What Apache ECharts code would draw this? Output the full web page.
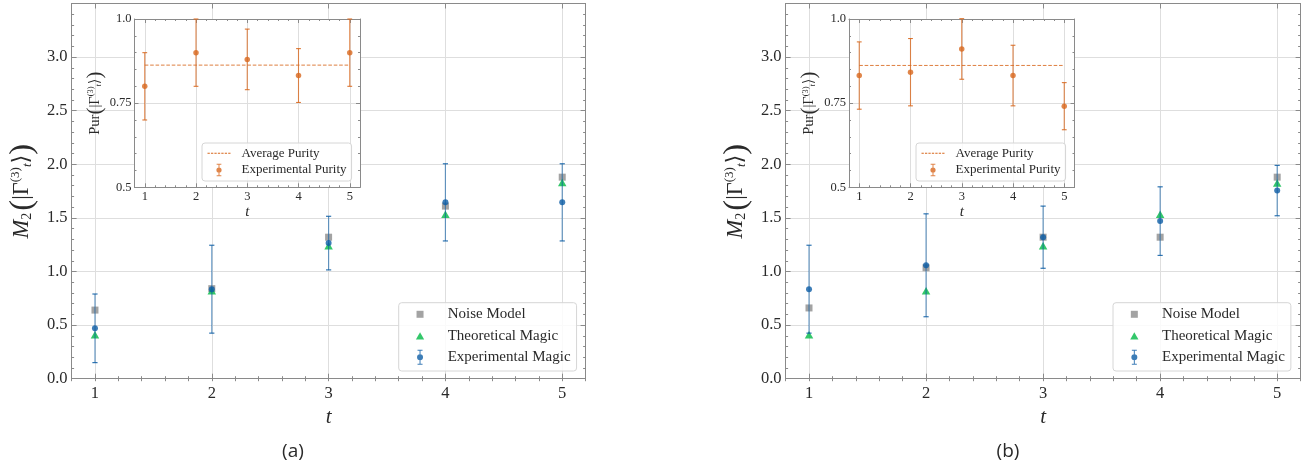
<!DOCTYPE html>
<html>
<head>
<meta charset="utf-8">
<script src="https://cdn.jsdelivr.net/npm/echarts@6/dist/echarts.min.js"></script>
<style>
html,body{margin:0;padding:0;background:#fff;}
#chart{width:1312px;height:472px;}
</style>
</head>
<body>
<div id="chart"></div>
<script>
// ---- data ----
const tValues = [1, 2, 3, 4, 5];
// panel (a)
const noiseA = [0.64, 0.84, 1.32, 1.61, 1.88];
const theoryA = [0.41, 0.82, 1.24, 1.535, 1.83];
const expA = [0.47, 0.835, 1.265, 1.645, 1.645];
const expErrA = [0.32, 0.41, 0.25, 0.36, 0.36];
const purA = [0.80, 0.90, 0.88, 0.832, 0.90];
const purErrA = [0.10, 0.10, 0.09, 0.08, 0.10];
const avgPurA = 0.863;
// panel (b)
const noiseB = [0.66, 1.035, 1.32, 1.32, 1.88];
const theoryB = [0.41, 0.82, 1.24, 1.535, 1.825];
const expB = [0.835, 1.058, 1.32, 1.47, 1.755];
const expErrB = [0.41, 0.48, 0.29, 0.32, 0.235];
const purB = [0.832, 0.842, 0.911, 0.832, 0.741];
const purErrB = [0.10, 0.10, 0.09, 0.09, 0.07];
const avgPurB = 0.862;
// tick labels
const mainYTicks = ['0.0','0.5','1.0','1.5','2.0','2.5','3.0'];
const insetYTicks = ['0.5','0.75','1.0'];

// ---- styles ----
const FRAME = '#8a8a8a';
const GRIDC = '#dedede';
const TXT = '#2a2a2a';
const SERIF = 'Liberation Serif, DejaVu Serif, serif';
const BLUE = '#0C5DA5';
const GREEN = '#00B945';
const GRAY = '#9e9e9e';
const ORANGE = '#D8681E';

const grids = [
  {left: 71.6, top: 3.5, width: 514, height: 375.2},   // a main
  {left: 134.5, top: 19, width: 225.5, height: 168.3, show: true, backgroundColor: '#fff', borderWidth: 0, z: 1}, // a inset
  {left: 785.6, top: 3.5, width: 515, height: 375.2},  // b main
  {left: 849, top: 19, width: 225.5, height: 168.3, show: true, backgroundColor: '#fff', borderWidth: 0, z: 1}   // b inset
];

function xAxesFor(g, main) {
  const z = main ? 0 : 3;
  const base = {gridIndex: g, type: 'value', min: 0.8, max: 5.2, z: z};
  const tickLen = main ? 5 : 4;
  const lineStyle = {color: FRAME, width: 1};
  return [
    Object.assign({}, base, {
      position: 'bottom',
      axisLine: {show: true, onZero: false, lineStyle: lineStyle},
      axisTick: {show: true, inside: true, length: tickLen, customValues: tValues, lineStyle: lineStyle},
      axisLabel: {show: true, customValues: tValues, formatter: v => String(Math.round(v)),
        margin: main ? 6 : 3, fontSize: main ? 16.5 : 12.5, fontFamily: SERIF, color: TXT},
      splitLine: {show: true, lineStyle: {color: GRIDC, width: 1}},
      name: 't', nameLocation: 'middle', nameGap: main ? 21 : 15,
      nameTextStyle: {fontFamily: SERIF, fontStyle: 'italic', fontSize: main ? 21 : 15, color: TXT}
    }),
    Object.assign({}, base, {
      position: 'bottom', interval: 0.2,
      axisLine: {show: false},
      axisTick: {show: true, inside: true, length: main ? 2.5 : 2, lineStyle: lineStyle},
      axisLabel: {show: false}, splitLine: {show: false}
    }),
    Object.assign({}, base, {
      position: 'top',
      axisLine: {show: true, onZero: false, lineStyle: lineStyle},
      axisTick: {show: true, inside: true, length: tickLen, customValues: tValues, lineStyle: lineStyle},
      axisLabel: {show: false}, splitLine: {show: false}
    }),
    Object.assign({}, base, {
      position: 'top', interval: 0.2,
      axisLine: {show: false},
      axisTick: {show: true, inside: true, length: main ? 2.5 : 2, lineStyle: lineStyle},
      axisLabel: {show: false}, splitLine: {show: false}
    })
  ];
}

function yAxesFor(g, main) {
  const z = main ? 0 : 3;
  const lineStyle = {color: FRAME, width: 1};
  const base = {gridIndex: g, type: 'value', min: main ? 0 : 0.5, max: main ? 3.5 : 1.0,
    interval: main ? 0.5 : 0.25, z: z};
  const ticks = main ? mainYTicks : insetYTicks;
  const step = main ? 0.5 : 0.25, start = main ? 0 : 0.5;
  const fmt = v => { const i = Math.round((v - start) / step); return ticks[i] !== undefined ? ticks[i] : ''; };
  const minor = {show: true, splitNumber: 5, length: main ? 2.5 : 2, lineStyle: lineStyle};
  const nameMain = '{i|M}{s|2}{p|(}{n||Γ}{u|(3)}{t|t}{n|⟩}{p|)}';
  const nameInset = '{n|Pur}{p|(}{n||Γ}{u|(3)}{t|t}{n|⟩}{p|)}';
  const fs = main ? 22.5 : 14.5;
  return [
    Object.assign({}, base, {
      position: 'left',
      axisLine: {show: true, onZero: false, lineStyle: lineStyle},
      axisTick: {show: true, inside: true, length: main ? 5 : 4, lineStyle: lineStyle},
      minorTick: minor,
      axisLabel: {show: true, formatter: fmt, showMaxLabel: !main, margin: main ? 4 : 3,
        fontSize: main ? 16.5 : 12.5, fontFamily: SERIF, color: TXT},
      splitLine: {show: true, lineStyle: {color: GRIDC, width: 1}},
      name: main ? nameMain : nameInset, nameLocation: 'middle', nameRotate: 90,
      nameGap: main ? 33 : 29,
      nameTextStyle: {fontFamily: SERIF, fontSize: fs, color: TXT,
        rich: {
          i: {fontFamily: SERIF, fontStyle: 'italic', fontSize: fs, color: TXT},
          s: {fontFamily: SERIF, fontSize: fs * 0.62, color: TXT, padding: [fs * 0.45, 2, 0, 0]},
          n: {fontFamily: SERIF, fontSize: fs, color: TXT},
          p: {fontFamily: SERIF, fontSize: fs * 1.45, color: TXT},
          u: {fontFamily: SERIF, fontSize: fs * 0.58, color: TXT, padding: [0, 0, fs * 0.55, 0]},
          t: {fontFamily: SERIF, fontStyle: 'italic', fontSize: fs * 0.58, color: TXT, padding: [fs * 0.5, 0, 0, 0]}
        }}
    }),
    Object.assign({}, base, {
      position: 'right',
      axisLine: {show: true, onZero: false, lineStyle: lineStyle},
      axisTick: {show: true, inside: true, length: main ? 5 : 4, lineStyle: lineStyle},
      minorTick: minor,
      axisLabel: {show: false}, splitLine: {show: false}
    })
  ];
}

const xAxis = [], yAxis = [];
grids.forEach((gr, g) => {
  const main = g % 2 === 0;
  xAxesFor(g, main).forEach(a => xAxis.push(a));
  yAxesFor(g, main).forEach(a => yAxis.push(a));
});

function pairs(vals) { return tValues.map((t, i) => [t, vals[i]]); }
function triples(vals, errs) { return tValues.map((t, i) => [t, vals[i], errs[i]]); }

function errRender(capHalf, lineColor, capColor, lw) {
  return function (params, api) {
    const x = api.value(0), y = api.value(1), e = api.value(2);
    const top = api.coord([x, y + e]);
    const bot = api.coord([x, y - e]);
    const cs = params.coordSys;
    const ymin = cs.y, ymax = cs.y + cs.height;
    const ty = Math.max(top[1], ymin), by = Math.min(bot[1], ymax);
    const children = [{type: 'line', shape: {x1: top[0], y1: ty, x2: top[0], y2: by},
      style: {stroke: lineColor, lineWidth: lw}}];
    if (top[1] >= ymin - 0.5) children.push({type: 'line',
      shape: {x1: top[0] - capHalf, y1: top[1], x2: top[0] + capHalf, y2: top[1]},
      style: {stroke: capColor, lineWidth: lw}});
    if (bot[1] <= ymax + 0.5) children.push({type: 'line',
      shape: {x1: bot[0] - capHalf, y1: bot[1], x2: bot[0] + capHalf, y2: bot[1]},
      style: {stroke: capColor, lineWidth: lw}});
    return {type: 'group', children: children};
  };
}

const series = [];
function addPanel(p, noise, theory, exp, expErr, pur, purErr, avg) {
  const gm = 2 * p, gi = 2 * p + 1;
  const xm = 4 * gm, ym = 2 * gm, xi = 4 * gi, yi = 2 * gi;
  series.push({name: 'Noise Model', type: 'scatter', xAxisIndex: xm, yAxisIndex: ym,
    symbol: 'rect', symbolSize: 7, color: GRAY, itemStyle: {color: GRAY, opacity: 0.95}, z: 2,
    data: pairs(noise)});
  series.push({name: 'Theoretical Magic', type: 'scatter', xAxisIndex: xm, yAxisIndex: ym,
    symbol: 'triangle', symbolSize: [8.5, 7.5], color: GREEN, itemStyle: {color: GREEN}, z: 2,
    data: pairs(theory)});
  series.push({name: 'expErr' + p, type: 'custom', xAxisIndex: xm, yAxisIndex: ym, z: 3,
    renderItem: errRender(2.6, 'rgba(12,93,165,0.6)', 'rgba(12,93,165,0.85)', 1.2),
    encode: {x: 0, y: 1}, data: triples(exp, expErr), silent: true});
  series.push({name: 'Experimental Magic', type: 'scatter', xAxisIndex: xm, yAxisIndex: ym,
    symbol: 'circle', symbolSize: 6, color: BLUE, itemStyle: {color: BLUE}, z: 4,
    data: pairs(exp)});
  // inset
  series.push({name: 'Average Purity', type: 'line', xAxisIndex: xi, yAxisIndex: yi,
    color: ORANGE, showSymbol: false, symbol: 'none', z: 5, silent: true,
    lineStyle: {color: 'rgba(216,104,30,0.85)', width: 1, type: [3.6, 1.8]},
    data: [[tValues[0], avg], [tValues[tValues.length - 1], avg]]});
  series.push({name: 'purErr' + p, type: 'custom', xAxisIndex: xi, yAxisIndex: yi, z: 6,
    renderItem: errRender(2.4, 'rgba(216,104,30,0.8)', 'rgba(216,104,30,0.9)', 1.1),
    encode: {x: 0, y: 1}, data: triples(pur, purErr), silent: true});
  series.push({name: 'Experimental Purity', type: 'scatter', xAxisIndex: xi, yAxisIndex: yi,
    symbol: 'circle', symbolSize: 5.5, color: ORANGE, itemStyle: {color: ORANGE}, z: 7,
    data: pairs(pur)});
}
addPanel(0, noiseA, theoryA, expA, expErrA, purA, purErrA, avgPurA);
addPanel(1, noiseB, theoryB, expB, expErrB, purB, purErrB, avgPurB);

// legend icons (frame box included via move-to points to control size / offset)
const F_MAIN = 'M0 0 M57 24 ';
const ICON_SQ = 'path://' + F_MAIN + 'M17.75 6.75 H28.25 V17.25 H17.75 Z';
const ICON_TRI = 'path://' + F_MAIN + 'M23 6.5 L29.2 17.5 L16.8 17.5 Z';
const ICON_ERR = 'path://' + F_MAIN +
  'M19.25 0.75 H26.75 V2.25 H19.25 Z M19.25 21.75 H26.75 V23.25 H19.25 Z ' +
  'M22.25 0.75 H23.75 V7.6 H22.25 Z M22.25 16.4 H23.75 V23.25 H22.25 Z ' +
  'M18.5 12 A4.5 4.5 0 1 1 27.5 12 A4.5 4.5 0 1 1 18.5 12 Z';
const F_IN = 'M0 0 M59 26 ';
let dashes = '';
for (let k = 0; k < 7; k++) { const x0 = 1 + k * 6.9; dashes += 'M' + x0 + ' 12 H' + (x0 + 4.6) + ' V14 H' + x0 + ' Z '; }
const ICON_DASH = 'path://' + F_IN + dashes;
const ICON_ERR_S = 'path://' + F_IN +
  'M19.3 0.5 H28.7 V2.5 H19.3 Z M19.3 23.5 H28.7 V25.5 H19.3 Z ' +
  'M23 0.5 H25 V8 H23 Z M23 18 H25 V25.5 H23 Z ' +
  'M18.8 13 A5.2 5.2 0 1 1 29.2 13 A5.2 5.2 0 1 1 18.8 13 Z';

function mainLegend(left) {
  return {
    left: left, top: 302.7, orient: 'vertical', align: 'left', selectedMode: false,
    itemWidth: 38, itemHeight: 16, itemGap: 5.5, padding: [3.6, 6, 5.7, 6],
    backgroundColor: 'rgba(255,255,255,0.85)', borderColor: '#d6d6d6', borderWidth: 1, borderRadius: 3,
    textStyle: {fontFamily: SERIF, fontSize: 15, color: TXT},
    z: 8,
    data: [{name: 'Noise Model', icon: ICON_SQ}, {name: 'Theoretical Magic', icon: ICON_TRI},
      {name: 'Experimental Magic', icon: ICON_ERR}]
  };
}
function insetLegend(left) {
  return {
    left: left, top: 143, orient: 'vertical', align: 'left', selectedMode: false,
    itemWidth: 29.5, itemHeight: 13, itemGap: 3.7, padding: [3.8, 5, 4.5, 5],
    backgroundColor: 'rgba(255,255,255,0.85)', borderColor: '#d6d6d6', borderWidth: 1, borderRadius: 3,
    textStyle: {fontFamily: SERIF, fontSize: 13, color: TXT},
    z: 9,
    data: [{name: 'Average Purity', icon: ICON_DASH}, {name: 'Experimental Purity', icon: ICON_ERR_S}]
  };
}

const option = {
  animation: false,
  backgroundColor: '#ffffff',
  grid: grids,
  xAxis: xAxis,
  yAxis: yAxis,
  legend: [mainLegend(398.7), insetLegend(202), mainLegend(1113), insetLegend(916)],
  series: series,
  graphic: [
    {type: 'text', x: 293, y: 452, style: {text: '(a)', font: '19px "Open Sans", sans-serif', fill: TXT,
      textAlign: 'center', textVerticalAlign: 'middle'}},
    {type: 'text', x: 1008, y: 452, style: {text: '(b)', font: '19px "Open Sans", sans-serif', fill: TXT,
      textAlign: 'center', textVerticalAlign: 'middle'}}
  ]
};

const chart = echarts.init(document.getElementById('chart'), null, {renderer: 'canvas'});
chart.setOption(option);
</script>
</body>
</html>
